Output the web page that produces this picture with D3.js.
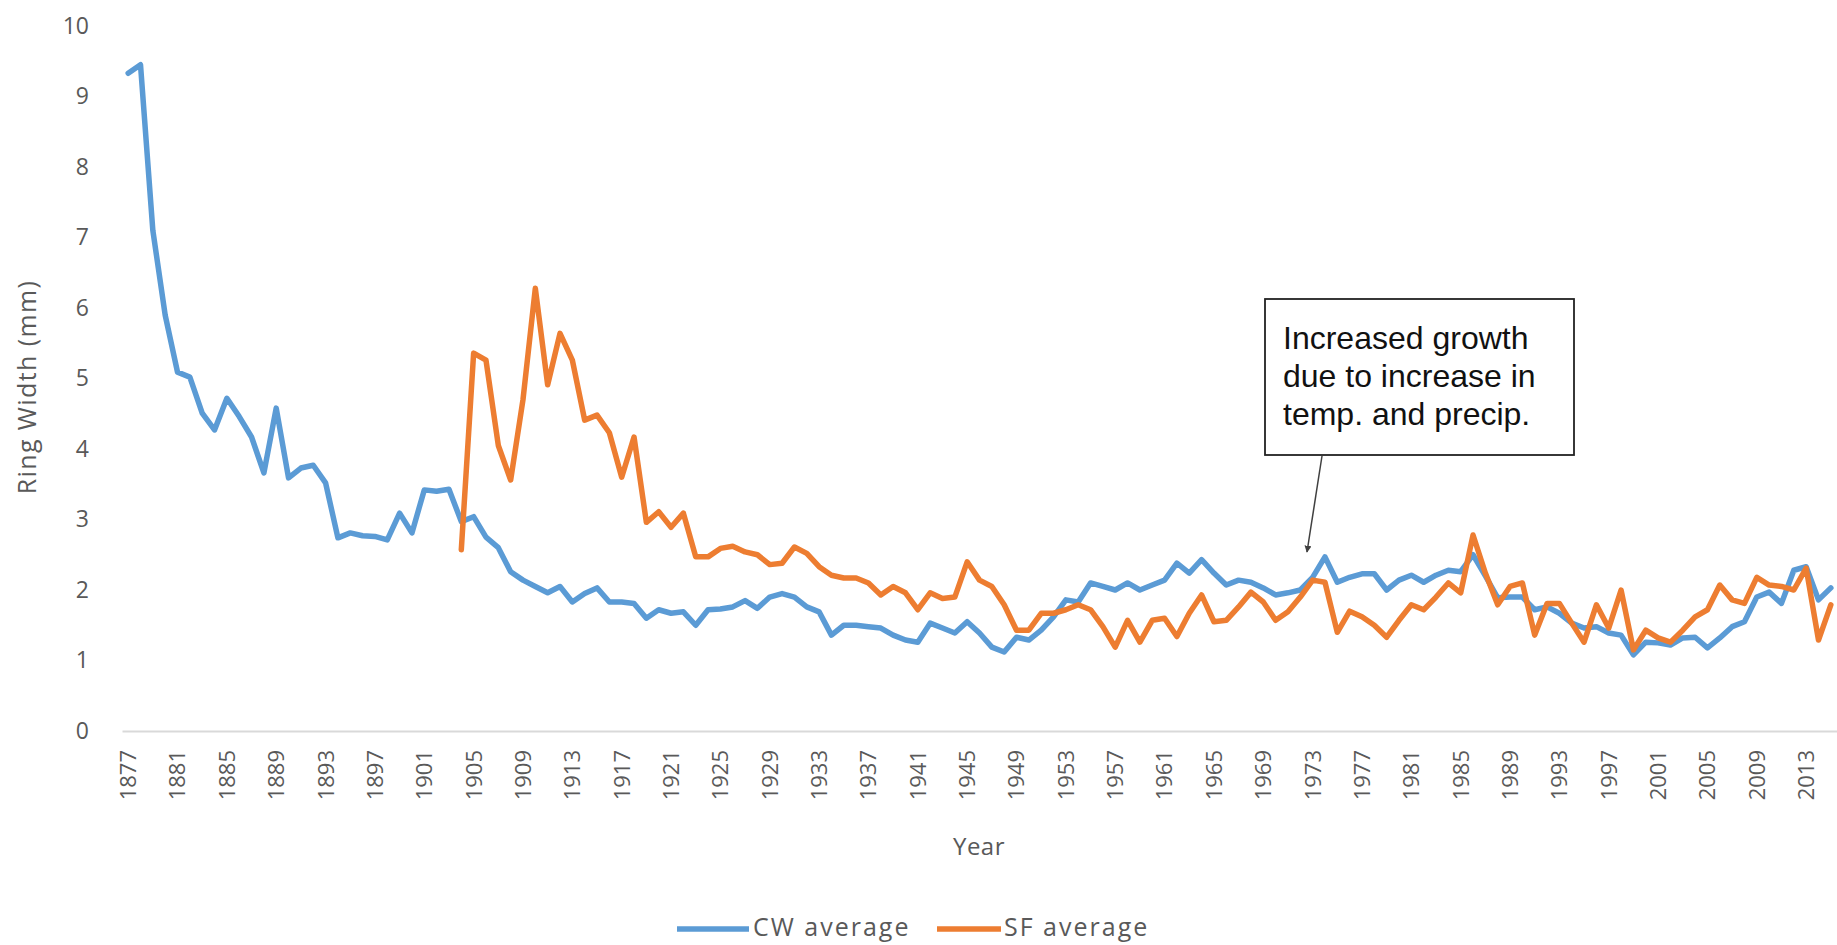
<!DOCTYPE html>
<html>
<head>
<meta charset="utf-8">
<script src="https://cdn.jsdelivr.net/npm/d3@7/dist/d3.min.js"></script>
<style>
  html, body { margin: 0; padding: 0; background: #fff; overflow: hidden; }
  svg { display: block; }
</style>
</head>
<body>
<svg id="chart" width="1837" height="945"></svg>
<script>
// Years on the category axis
const firstYear = 1877;
const lastYear = 2015;
const years = d3.range(firstYear, lastYear + 1);

// Labelled years on the horizontal axis (every fourth year)
const tickYears = [1877, 1881, 1885, 1889, 1893, 1897, 1901, 1905, 1909, 1913, 1917, 1921,
  1925, 1929, 1933, 1937, 1941, 1945, 1949, 1953, 1957, 1961, 1965, 1969, 1973, 1977,
  1981, 1985, 1989, 1993, 1997, 2001, 2005, 2009, 2013];

// Vertical axis ticks (mm)
const yTicks = [0, 1, 2, 3, 4, 5, 6, 7, 8, 9, 10];

// CW average ring width (mm), 1877-2015
const cwValues = [
  9.33, 9.45, 7.10, 5.90, 5.09, 5.02, 4.51, 4.27, 4.72, 4.46,   // 1877-1886
  4.17, 3.66, 4.58, 3.59, 3.73, 3.77, 3.52, 2.74, 2.81, 2.77,   // 1887-1896
  2.76, 2.71, 3.09, 2.81, 3.42, 3.40, 3.43, 2.97, 3.04, 2.75,   // 1897-1906
  2.60, 2.26, 2.14, 2.05, 1.96, 2.05, 1.83, 1.95, 2.03, 1.83,   // 1907-1916
  1.83, 1.81, 1.60, 1.72, 1.67, 1.69, 1.50, 1.72, 1.73, 1.76,   // 1917-1926
  1.85, 1.74, 1.90, 1.95, 1.90, 1.76, 1.69, 1.36, 1.50, 1.50,   // 1927-1936
  1.48, 1.46, 1.36, 1.29, 1.26, 1.53, 1.46, 1.39, 1.55, 1.39,   // 1937-1946
  1.19, 1.12, 1.33, 1.29, 1.43, 1.62, 1.86, 1.83, 2.10, 2.05,   // 1947-1956
  2.00, 2.10, 2.00, 2.07, 2.14, 2.38, 2.24, 2.43, 2.24, 2.07,   // 1957-1966
  2.14, 2.11, 2.03, 1.93, 1.96, 2.00, 2.18, 2.47, 2.11, 2.18,   // 1967-1976
  2.23, 2.23, 2.00, 2.14, 2.21, 2.11, 2.21, 2.28, 2.26, 2.50,   // 1977-1986
  2.20, 1.89, 1.90, 1.90, 1.72, 1.76, 1.67, 1.53, 1.46, 1.48,   // 1987-1996
  1.39, 1.36, 1.08, 1.26, 1.25, 1.22, 1.32, 1.33, 1.18, 1.32,   // 1997-2006
  1.48, 1.55, 1.90, 1.97, 1.81, 2.28, 2.33, 1.86, 2.03          // 2007-2015
];

// SF average ring width (mm), 1877-2015 (no record before 1904)
const sfValues = [
  null, null, null, null, null, null, null, null, null, null,   // 1877-1886
  null, null, null, null, null, null, null, null, null, null,   // 1887-1896
  null, null, null, null, null, null, null, 2.57, 5.36, 5.26,   // 1897-1906
  4.05, 3.56, 4.70, 6.28, 4.91, 5.64, 5.26, 4.41, 4.48, 4.23,   // 1907-1916
  3.60, 4.17, 2.96, 3.11, 2.89, 3.09, 2.47, 2.47, 2.59, 2.62,   // 1917-1926
  2.54, 2.50, 2.36, 2.38, 2.61, 2.52, 2.33, 2.21, 2.17, 2.17,   // 1927-1936
  2.10, 1.93, 2.05, 1.96, 1.72, 1.96, 1.88, 1.90, 2.40, 2.14,   // 1937-1946
  2.05, 1.79, 1.43, 1.43, 1.67, 1.67, 1.72, 1.79, 1.72, 1.48,   // 1947-1956
  1.19, 1.57, 1.26, 1.57, 1.60, 1.34, 1.67, 1.93, 1.55, 1.57,   // 1957-1966
  1.76, 1.97, 1.83, 1.57, 1.69, 1.90, 2.14, 2.11, 1.40, 1.70,   // 1967-1976
  1.62, 1.50, 1.33, 1.57, 1.79, 1.72, 1.90, 2.10, 1.96, 2.78,   // 1977-1986
  2.24, 1.79, 2.05, 2.10, 1.36, 1.81, 1.81, 1.53, 1.26, 1.79,   // 1987-1996
  1.46, 2.00, 1.15, 1.43, 1.32, 1.26, 1.43, 1.62, 1.72, 2.07,   // 1997-2006
  1.86, 1.81, 2.18, 2.07, 2.05, 2.00, 2.31, 1.29, 1.79          // 2007-2015
];

const seriesNames = ["CW average", "SF average"];
const seriesColors = ["#5B9BD5", "#ED7D31"];

const annotationLines = ["Increased growth", "due to increase in", "temp. and precip."];
const xTitle = "Year";
const yTitle = "Ring Width (mm)";

// ---- layout ----
const svg = d3.select("#chart");
const W = 1837, H = 945;
const plot = { left: 122, right: 1837, top: 26, bottom: 731 };
const labelFont = "'Open Sans', 'Noto Sans', sans-serif";
const labelColor = "#595959";

svg.append("rect").attr("width", W).attr("height", H).attr("fill", "#fff");

const x = d3.scaleBand().domain(years).range([plot.left, plot.right]).padding(0);
const xc = yr => x(yr) + x.bandwidth() / 2;
const y = d3.scaleLinear().domain([0, 10]).range([plot.bottom, plot.top]);

// vertical axis labels
const yAxis = svg.append("g")
  .attr("transform", `translate(89,0)`)
  .call(d3.axisLeft(y).tickValues(yTicks).tickSize(0).tickPadding(0).tickFormat(d3.format("d")));
yAxis.select(".domain").remove();
yAxis.selectAll("text")
  .attr("font-family", labelFont).attr("font-size", 23).attr("fill", labelColor);

// horizontal axis
const xAxis = svg.append("g")
  .attr("transform", `translate(0,${plot.bottom})`)
  .call(d3.axisBottom(x).tickValues(tickYears).tickSize(0));
xAxis.select(".domain").attr("stroke", "#d9d9d9").attr("stroke-width", 2);
xAxis.selectAll("text")
  .attr("font-family", labelFont).attr("font-size", 22).attr("fill", labelColor)
  .attr("transform", "rotate(-90)")
  .attr("text-anchor", "end")
  .attr("x", -19).attr("y", 0).attr("dy", "0.36em");

// axis titles
svg.append("text")
  .attr("x", 979).attr("y", 846).attr("dy", "0.36em")
  .attr("text-anchor", "middle")
  .attr("font-family", labelFont).attr("font-size", 24).attr("fill", labelColor)
  .attr("letter-spacing", 0.5)
  .text(xTitle);
svg.append("text")
  .attr("transform", "translate(27,387) rotate(-90)")
  .attr("dy", "0.36em")
  .attr("text-anchor", "middle")
  .attr("font-family", labelFont).attr("font-size", 25).attr("fill", labelColor)
  .attr("letter-spacing", 1.4)
  .text(yTitle);

// series lines
const series = [cwValues, sfValues];
const line = d3.line()
  .defined(d => d.v !== null)
  .x(d => xc(d.year))
  .y(d => y(d.v));

series.forEach((vals, i) => {
  const pts = years.map((yr, k) => ({ year: yr, v: vals[k] }));
  svg.append("path")
    .datum(pts)
    .attr("fill", "none")
    .attr("stroke", seriesColors[i])
    .attr("stroke-width", 5.5)
    .attr("stroke-linejoin", "round")
    .attr("stroke-linecap", "round")
    .attr("d", line);
});

// legend
const legendItems = [
  { x: 677, len: 72, textX: 753 },
  { x: 937, len: 64, textX: 1004 }
];
const legendY = 927;
const legend = svg.append("g");
seriesNames.forEach((name, i) => {
  legend.append("line")
    .attr("x1", legendItems[i].x).attr("x2", legendItems[i].x + legendItems[i].len)
    .attr("y1", legendY + 2).attr("y2", legendY + 2)
    .attr("stroke", seriesColors[i]).attr("stroke-width", 5.5);
  legend.append("text")
    .attr("x", legendItems[i].textX).attr("y", legendY).attr("dy", "0.36em")
    .attr("font-family", labelFont).attr("font-size", 25).attr("fill", labelColor)
    .attr("letter-spacing", 2)
    .text(name);
});

// annotation callout with arrow
const defs = svg.append("defs");
defs.append("marker")
  .attr("id", "arrowHead")
  .attr("viewBox", "0 0 10 10")
  .attr("refX", 9).attr("refY", 5)
  .attr("markerWidth", 7).attr("markerHeight", 7)
  .attr("markerUnits", "userSpaceOnUse")
  .attr("orient", "auto")
  .append("path").attr("d", "M0,0 L10,5 L0,10 Z").attr("fill", "#404040");

svg.append("line")
  .attr("x1", 1322).attr("y1", 456)
  .attr("x2", 1307).attr("y2", 552)
  .attr("stroke", "#404040").attr("stroke-width", 1.5)
  .attr("marker-end", "url(#arrowHead)");

svg.append("rect")
  .attr("x", 1265).attr("y", 299).attr("width", 309).attr("height", 156)
  .attr("fill", "#fff").attr("stroke", "#222").attr("stroke-width", 1.8);

const note = svg.append("text")
  .attr("font-family", "'Liberation Sans', Arial, sans-serif")
  .attr("font-size", 32).attr("fill", "#111");
annotationLines.forEach((t, i) => {
  note.append("tspan").attr("x", 1283).attr("y", 349 + i * 38).text(t);
});
</script>
</body>
</html>
